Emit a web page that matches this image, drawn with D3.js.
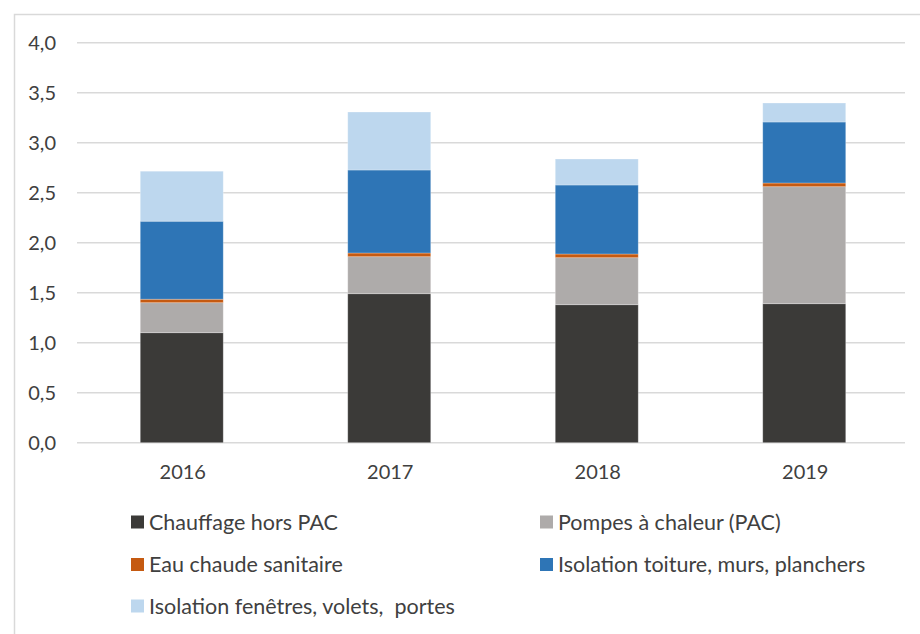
<!DOCTYPE html>
<html><head><meta charset="utf-8">
<script src="https://cdn.jsdelivr.net/npm/d3@7"></script>
<style>body{margin:0;background:#fff;}svg{display:block;}</style>
</head><body>
<svg id="c" width="920" height="634"></svg>
<script>
const years = ["2016","2017","2018","2019"];
const seriesNames = ["Chauffage hors PAC","Pompes à chaleur (PAC)","Eau chaude sanitaire","Isolation toiture, murs, planchers","Isolation fenêtres, volets,  portes"];
const chauffage = [1.10, 1.49, 1.38, 1.39];
const pac = [0.30, 0.37, 0.47, 1.17];
const eau = [0.035, 0.037, 0.037, 0.037];
const isolToit = [0.78, 0.83, 0.69, 0.61];
const isolFen = [0.50, 0.58, 0.26, 0.19];
const yTicks = [0,0.5,1,1.5,2,2.5,3,3.5,4];
const colors = ["#3b3a38","#aeabaa","#c55a11","#2e75b6","#bdd7ee"];

const seriesVals = [chauffage, pac, eau, isolToit, isolFen];
const keys = ["s0","s1","s2","s3","s4"];
const rows = years.map((y,i)=>{const r={year:y}; keys.forEach((k,j)=>r[k]=seriesVals[j][i]); return r;});

const svg = d3.select("#c");
const font = "Lato, 'Open Sans', sans-serif";
svg.append("rect").attr("x",14.5).attr("y",14.5).attr("width",940).attr("height",660)
  .attr("fill","#fff").attr("stroke","#d9d9d9").attr("stroke-width",1.5);

const x = d3.scaleBand().domain(years).range([78,908]).paddingInner(0.6).paddingOuter(0.3);
const y = d3.scaleLinear().domain([0,4]).range([442.7,42.7]);

svg.append("g").selectAll("line").data(yTicks).join("line")
  .attr("x1",77).attr("x2",905).attr("y1",d=>y(d)).attr("y2",d=>y(d))
  .attr("stroke","#d9d9d9").attr("stroke-width",1.5);

const fmt = d=>d3.format(".1f")(d).replace(".",",");
svg.append("g").selectAll("text").data(yTicks).join("text")
  .attr("x",56).attr("y",d=>y(d)).attr("dy","0.35em").attr("text-anchor","end")
  .attr("font-family",font).attr("font-size",20).attr("fill","#404040").text(fmt);

svg.append("g").selectAll("text").data(years).join("text")
  .attr("x",d=>x(d)+x.bandwidth()/2+1).attr("y",472).attr("dy","0.35em").attr("text-anchor","middle")
  .attr("font-family",font).attr("font-size",20).attr("fill","#404040").text(d=>d);

const stack = d3.stack().keys(keys)(rows);
svg.append("g").selectAll("g").data(stack).join("g")
  .attr("fill",(d,i)=>colors[i])
  .selectAll("rect").data(d=>d).join("rect")
  .attr("x",d=>x(d.data.year)).attr("width",x.bandwidth())
  .attr("y",d=>y(d[1])).attr("height",d=>y(d[0])-y(d[1]))
  .attr("stroke","rgba(255,255,255,0.35)").attr("stroke-width",0.8);

const legPos = [[131,522],[540,522],[131,564.5],[540,564.5],[131,606]];
const lg = svg.append("g").selectAll("g").data(seriesNames).join("g")
  .attr("transform",(d,i)=>`translate(${legPos[i][0]},${legPos[i][1]})`);
lg.append("rect").attr("x",0).attr("y",-6.5).attr("width",13).attr("height",13).attr("fill",(d,i)=>colors[i]);
lg.append("text").attr("x",18).attr("y",0).attr("dy","0.35em")
  .attr("font-family",font).attr("font-size",21.5).attr("fill","#404040").style("white-space","pre").text(d=>d);
</script>
</body></html>
